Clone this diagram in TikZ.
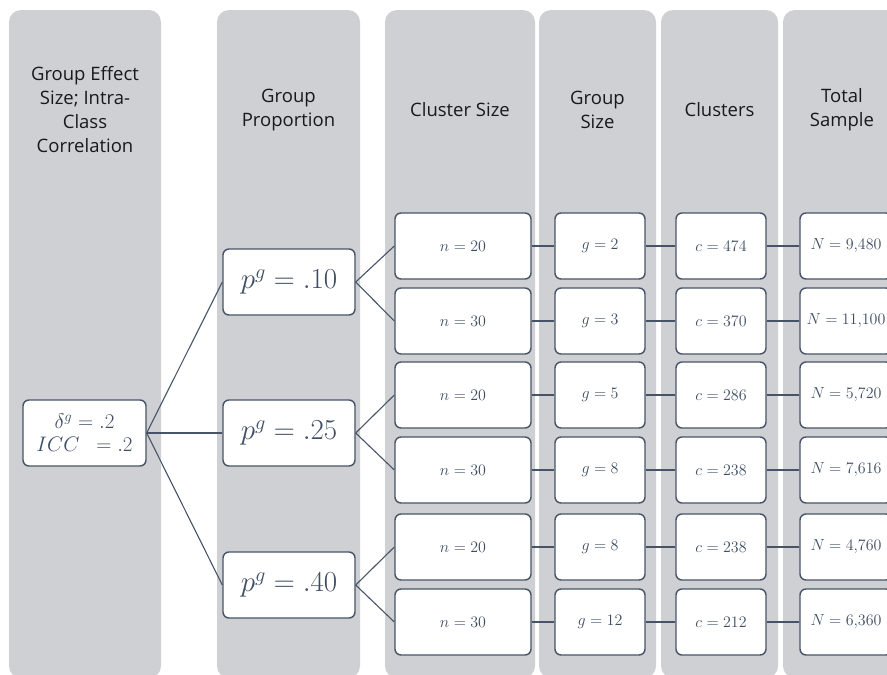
\documentclass[tikz,border=0pt]{standalone}
\usepackage{fix-cm}
\usepackage{fontspec}
\setmainfont{Open Sans}
\definecolor{colgray}{HTML}{CFD0D4}
\definecolor{boxline}{HTML}{475467}
\definecolor{mathcol}{HTML}{3E4D63}
\begin{document}
\begin{tikzpicture}[x=1pt,y=-1pt,
  colbg/.style={fill=colgray, draw=none, rounded corners=12pt},
  head/.style={align=center, font=\fontsize{18.5}{24}\selectfont, text=black!90, inner sep=0pt},
  box/.style={draw=boxline, line width=1.4pt, fill=white, rounded corners=6pt, inner sep=0pt, text=mathcol, minimum height=66pt},
  rootbox/.style={box, minimum width=123pt, align=center, font=\fontsize{21}{23}\selectfont},
  pbox/.style={box, minimum width=132pt, font=\fontsize{29}{30}\selectfont},
  nbox/.style={box, minimum width=136pt, font=\fontsize{16}{16}\selectfont},
  smallbox/.style={box, minimum width=90pt, font=\fontsize{16}{16}\selectfont},
  conn/.style={draw=boxline, line width=1.1pt}]
\useasboundingbox (0,0) rectangle (887,675);
\begin{scope}
\clip (0,0) rectangle (887,675);
% columns
\fill[colbg] (9,10) rectangle (161,678);
\fill[colbg] (217,10) rectangle (360,678);
\fill[colbg] (385,10) rectangle (535,678);
\fill[colbg] (539,10) rectangle (656,678);
\fill[colbg] (661,10) rectangle (778,678);
\fill[colbg] (783,10) rectangle (905,678);
% headers
\node[head] (h1) at (85,110) {Group Effect\\Size; Intra-\\Class\\Correlation};
\node[head] (h2) at (288.5,110) {Group\\Proportion};
\node[head] (h3) at (460,110) {Cluster Size};
\node[head] (h4) at (597.5,110) {Group\\Size};
\node[head] (h5) at (719.5,110) {Clusters};
\node[head] (h6) at (842,110) {Total\\Sample};
% root
\node[rootbox] (root) at (84.5,433) {$\delta^g = .2$\\$ICC\ \ = .2$};
% p boxes
\node[pbox] (p1) at (289,282) {$p^g = .10$};
\node[pbox] (p2) at (289,433) {$p^g = .25$};
\node[pbox] (p3) at (289,585) {$p^g = .40$};
% rows
\foreach \i/\y/\n/\g/\c/\N in {1/246/20/2/474/{9{,}480},2/321/30/3/370/{11{,}100},3/395/20/5/286/{5{,}720},4/470/30/8/238/{7{,}616},5/547/20/8/238/{4{,}760},6/622/30/12/212/{6{,}360}}{
  \node[nbox] (n\i) at (463,\y) {$n = \n$};
  \node[smallbox] (g\i) at (600,\y) {$g = \g$};
  \node[smallbox] (c\i) at (721,\y) {$c = \c$};
  \node[box, minimum width=92pt, font=\fontsize{16}{16}\selectfont] (N\i) at (846,\y) {$N = \N$};
  \draw[conn] (n\i.east) -- (g\i.west);
  \draw[conn] (g\i.east) -- (c\i.west);
  \draw[conn] (c\i.east) -- (N\i.west);
}
% connectors
\draw[conn] (root.east) -- (p1.west);
\draw[conn] (root.east) -- (p2.west);
\draw[conn] (root.east) -- (p3.west);
\draw[conn] (p1.east) -- (n1.west);
\draw[conn] (p1.east) -- (n2.west);
\draw[conn] (p2.east) -- (n3.west);
\draw[conn] (p2.east) -- (n4.west);
\draw[conn] (p3.east) -- (n5.west);
\draw[conn] (p3.east) -- (n6.west);
\end{scope}
\end{tikzpicture}
\end{document}
